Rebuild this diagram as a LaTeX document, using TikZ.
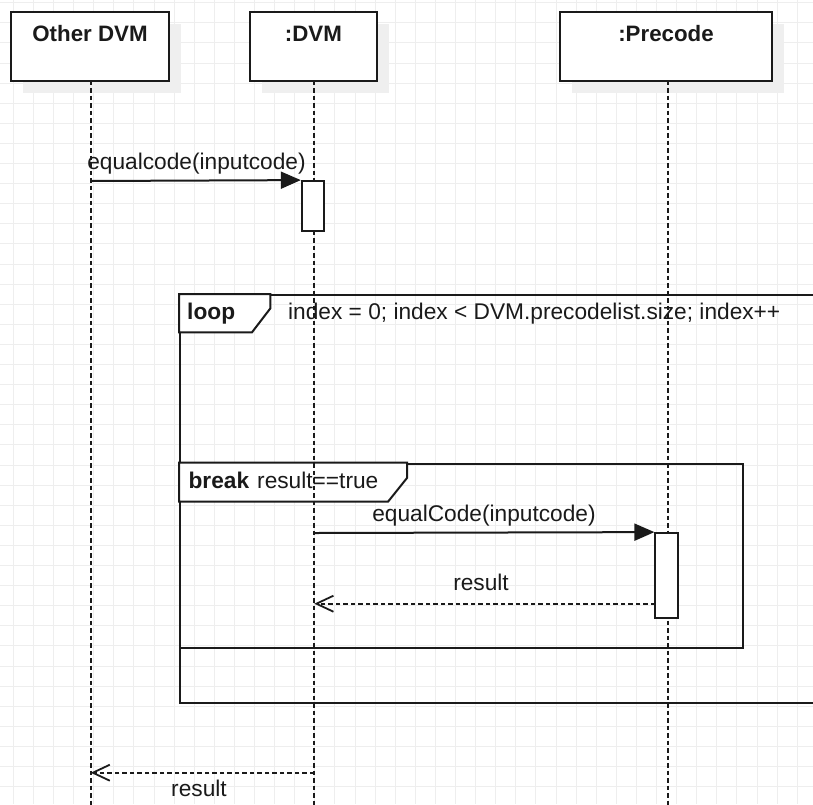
\documentclass[tikz,border=0pt]{standalone}
\usepackage{fontspec}
\setmainfont{Liberation Sans}
\usetikzlibrary{arrows.meta}
\definecolor{ink}{HTML}{1A1A1A}
\definecolor{gridc}{HTML}{EEEEEE}
\definecolor{shadowc}{HTML}{EFEFEF}
\begin{document}
\begin{tikzpicture}[x=1pt,y=-1pt,
  txt/.style={font=\fontsize{22.7}{26}\selectfont, text=ink, inner sep=0pt, anchor=base},
  ttl/.style={font=\fontsize{22.3}{26}\selectfont\bfseries, text=ink, inner sep=0pt, anchor=base},
  pbox/.style={draw=ink, line width=2pt, fill=white, inner sep=0pt},
  act/.style={draw=ink, line width=1.8pt, fill=white, inner sep=0pt},
  frm/.style={draw=ink, line width=2pt, inner sep=0pt, anchor=north west},
  lbl/.style={draw=ink, line width=2pt, fill=white, line join=miter},
  lifeline/.style={ink, line width=2.2pt, dash pattern=on 4.5pt off 3pt},
  msg/.style={ink, line width=2pt, -{Triangle[length=20pt,width=17pt]}},
  ret/.style={ink, line width=1.8pt, dash pattern=on 4.5pt off 3pt, -{Straight Barb[length=17pt,width=16pt,line width=1.8pt]}}
]
\useasboundingbox (0,0) rectangle (813,804);
% grid
\foreach \i in {0,...,40} \draw[gridc, line width=0.9pt] ({13.3+20.1*\i},0) -- ({13.3+20.1*\i},804);
\foreach \j in {0,...,40} \draw[gridc, line width=0.9pt] (0,{2.7+20.1*\j}) -- (813,{2.7+20.1*\j});

% participants (shadows first)
\coordinate (odvm-nw) at (11,12);
\coordinate (dvm-nw) at (250,12);
\coordinate (pre-nw) at (560,12);
\fill[shadowc] ([shift={(12,12)}]odvm-nw) rectangle +(158,68.7);
\fill[shadowc] ([shift={(12,12)}]dvm-nw) rectangle +(126.7,68.7);
\fill[shadowc] ([shift={(12,12)}]pre-nw) rectangle +(212,68.7);
\node[pbox, minimum width=158pt, minimum height=68.7pt] (odvm) at (90,46.35) {};
\node[pbox, minimum width=126.7pt, minimum height=68.7pt] (dvm) at (313.35,46.35) {};
\node[pbox, minimum width=212pt, minimum height=68.7pt] (pre) at (666,46.35) {};
\node[ttl] (odvmt) at (90,41) {Other DVM};
\node[ttl] (dvmt) at (313.35,41) {:DVM};
\node[ttl] (pret) at (666,41) {:Precode};

% frames
\node[frm, minimum width=640pt, minimum height=408pt] (loopf) at (179,294) {};
\node[frm, minimum width=562.7pt, minimum height=184.6pt] (breakf) at (179,462.7) {};
\draw[lbl] (loopf.north west) -- (270.4,294) -- (270.4,308.3) -- (252,332.3) -- (179,332.3) -- cycle;
\draw[lbl] (breakf.north west) -- (407,462.7) -- (407,478) -- (388,501.7) -- (179,501.7) -- cycle;
\node[ttl, anchor=base west, font=\fontsize{22.7}{26}\selectfont\bfseries] (loopk) at (187,319.3) {loop};
\node[txt, anchor=base west] (loopc) at (288,319.3) {index = 0; index < DVM.precodelist.size; index++};
\node[ttl, anchor=base west, font=\fontsize{22.7}{26}\selectfont\bfseries] (breakk) at (188.4,488) {break};
\node[txt, anchor=base west] (breakc) at (257,488) {result==true};

% message labels
\node[txt] (l1) at (196.5,169) {equalcode(inputcode)};
\node[txt] (l2) at (484,521.7) {equalCode(inputcode)};
\node[txt] (l3) at (481,590) {result};
\node[txt] (l4) at (199,796.7) {result};

% lifelines
\coordinate (odvm-top) at (90.7,80.7);
\coordinate (odvm-bot) at (90.7,806);
\coordinate (dvm-top) at (314.3,80.7);
\coordinate (dvm-bot) at (314.3,806);
\coordinate (pre-top) at (668.3,80.7);
\coordinate (pre-bot) at (668.3,806);
\draw[lifeline] (odvm-top) -- (odvm-bot);
\draw[lifeline] (dvm-top) -- (dvm-bot);
\draw[lifeline] (pre-top) -- (pre-bot);

% activations
\node[act, minimum width=22.6pt, minimum height=49.7pt] (a1) at (313,205.85) {};
\node[act, minimum width=23pt, minimum height=84.7pt] (a2) at (666.8,575.35) {};

% messages
\coordinate (m1s) at (90.7,181);
\coordinate (m2s) at (314.3,533);
\coordinate (r1s) at (655.3,603.7);
\coordinate (r1e) at (314.3,603.7);
\coordinate (r2s) at (314.3,772.7);
\coordinate (r2e) at (90.7,772.7);
\draw[msg] (m1s) -- (a1.north west);
\draw[msg] (m2s) -- (a2.north west);
\draw[ret] (r1s) -- (r1e);
\draw[ret] (r2s) -- (r2e);
\end{tikzpicture}
\end{document}
